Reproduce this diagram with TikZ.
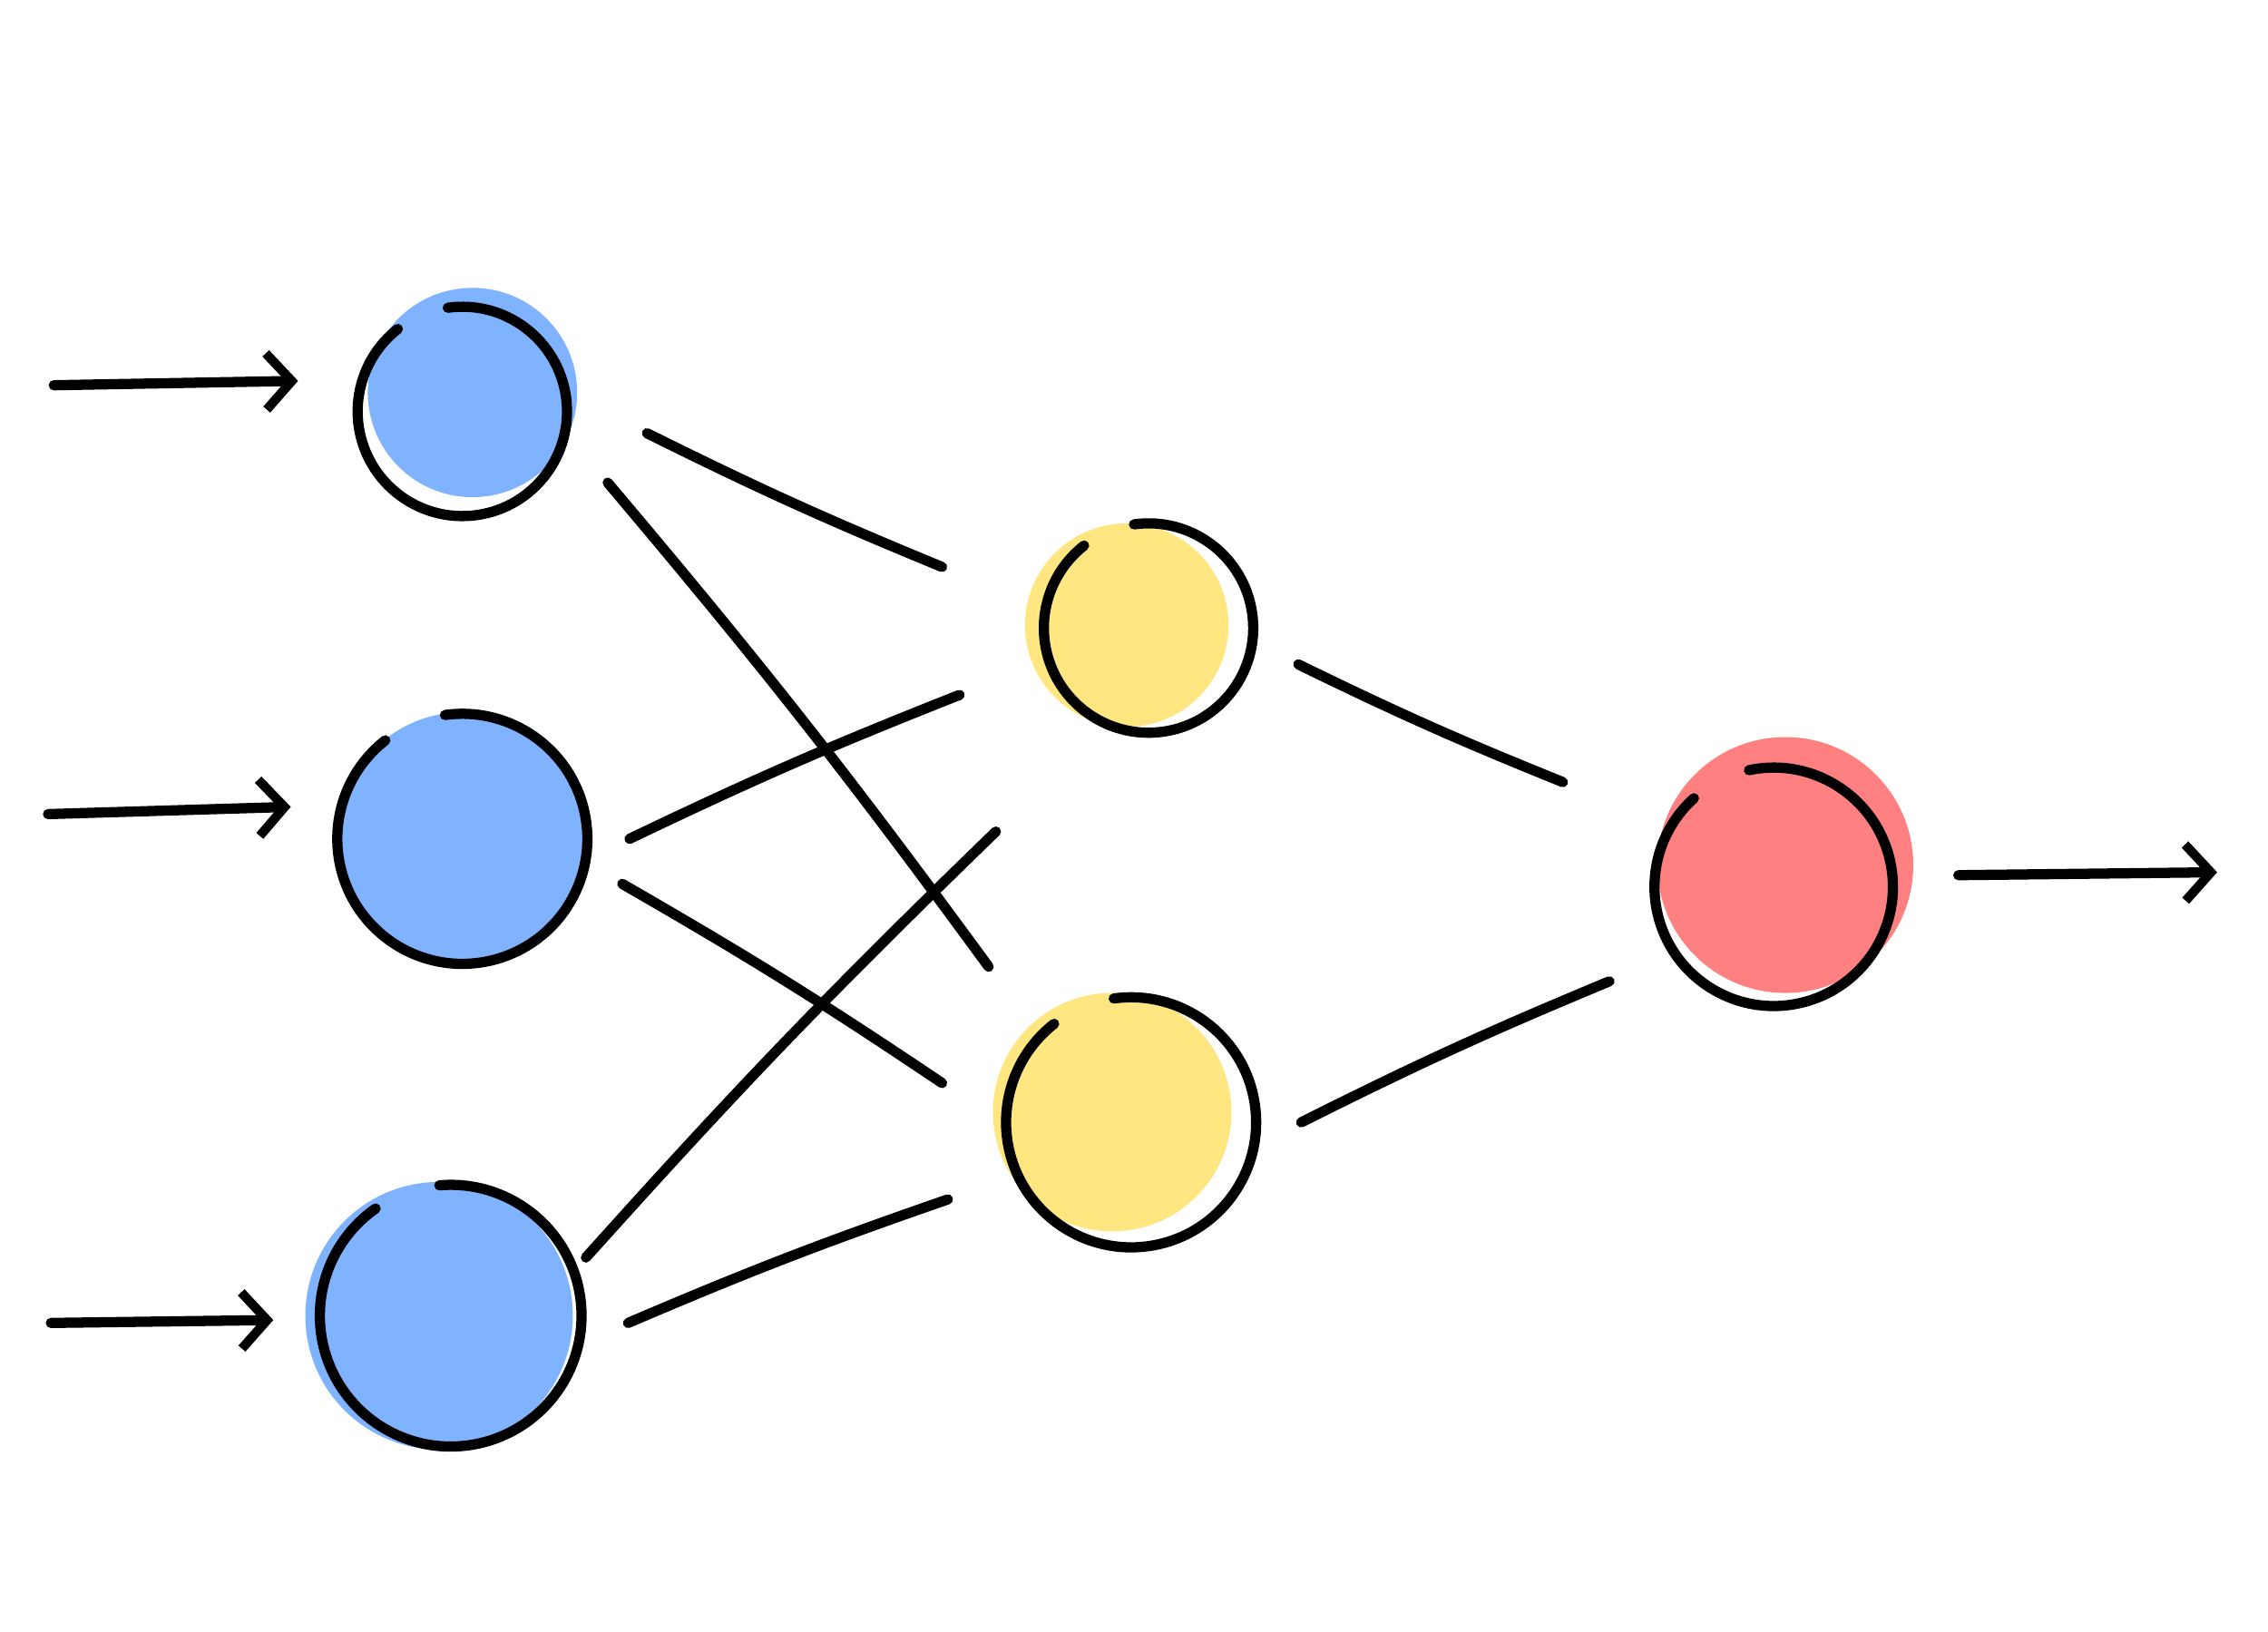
\documentclass[tikz,border=0pt]{standalone}
\usetikzlibrary{arrows.meta}
\definecolor{cblue}{HTML}{80B3FF}
\definecolor{cyel}{HTML}{FFE680}
\definecolor{cred}{HTML}{FF8080}
\tikzset{
 ink/.style={line width=2pt,line cap=round,black},
 arr/.style={ink,-{Straight Barb[length=5pt,width=11pt,line width=1.8pt]}},
 blob/.style={circle,inner sep=0pt}
}
\begin{document}
\begin{tikzpicture}[x=0.01cm,y=-0.01cm]
\useasboundingbox (0,0) rectangle (1560,1122);
% fills
\fill[cblue] (325,270) circle[radius=72];
\fill[cblue] (318,575) circle[radius=85];
\fill[cblue] (302,905) circle[radius=92];
\fill[cyel] (775,430) circle[radius=70];
\fill[cyel] (765,765) circle[radius=82];
\fill[cred] (1228,595) circle[radius=88];
% nodes
\node[blob,minimum size=150] (i1) at (318,283) {};
\node[blob,minimum size=180] (i2) at (318,577) {};
\node[blob,minimum size=188] (i3) at (310,905) {};
\node[blob,minimum size=150] (h1) at (790,432) {};
\node[blob,minimum size=180] (h2) at (778,772) {};
\node[blob,minimum size=176] (o) at (1220,610) {};
% outlines (gap at upper left)
\draw[ink] (i1.center) ++(262:72) arc[start angle=262,end angle=592,radius=72];
\draw[ink] (i2.center) ++(262:86) arc[start angle=262,end angle=592,radius=86];
\draw[ink] (i3.center) ++(265:90) arc[start angle=265,end angle=595,radius=90];
\draw[ink] (h1.center) ++(262:72) arc[start angle=262,end angle=592,radius=72];
\draw[ink] (h2.center) ++(262:86) arc[start angle=262,end angle=592,radius=86];
\draw[ink] (o.center) ++(258:82) arc[start angle=258,end angle=588,radius=82];
% endpoints
\coordinate (a1) at (445,298); \coordinate (b1) at (648,390);
\coordinate (a2) at (418,332); \coordinate (b2) at (680,665);
\coordinate (a3) at (433,577); \coordinate (b3) at (660,478);
\coordinate (a4) at (428,608); \coordinate (b4) at (648,745);
\coordinate (a5) at (403,865); \coordinate (b5) at (685,572);
\coordinate (a6) at (432,910); \coordinate (b6) at (652,825);
\coordinate (a7) at (893,457); \coordinate (b7) at (1075,538);
\coordinate (a8) at (895,772); \coordinate (b8) at (1107,675);
\draw[ink] (a1) to[bend right=2] (b1);
\draw[ink] (a2) to[bend left=2] (b2);
\draw[ink] (a3) to[bend left=2] (b3);
\draw[ink] (a4) to[bend left=2] (b4);
\draw[ink] (a5) to[bend left=2] (b5);
\draw[ink] (a6) to[bend left=2] (b6);
\draw[ink] (a7) to[bend right=2] (b7);
\draw[ink] (a8) to[bend left=2] (b8);
% in/out arrows
\coordinate (s1) at (37,265); \coordinate (s2) at (33,560); \coordinate (s3) at (35,910); \coordinate (t4) at (1525,600);
\draw[arr] (s1) -- (205,262);
\draw[arr] (s2) -- (200,555);
\draw[arr] (s3) -- (188,908);
\draw[arr] (1347,602) -- (t4);
\end{tikzpicture}
\end{document}
